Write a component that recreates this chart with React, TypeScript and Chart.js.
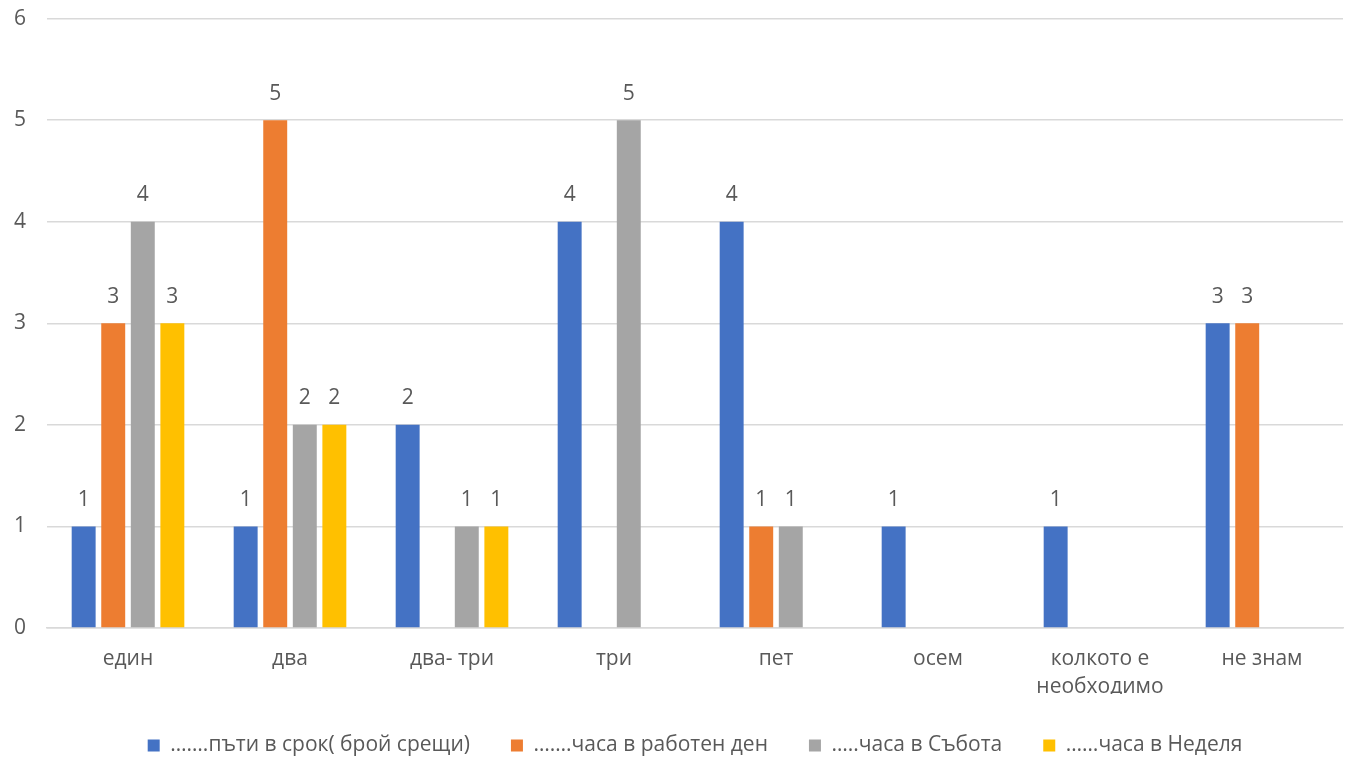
import React, { useEffect, useRef } from 'react';
import { Chart, registerables, Plugin } from 'chart.js';

Chart.register(...registerables);

const categories: (string | string[])[] = ['един', 'два', 'два- три', 'три', 'пет', 'осем', ['колкото е', 'необходимо'], 'не знам'];
const seriesNames = ['…….пъти в срок( брой срещи)', '…….часа в работен ден', '…..часа в Събота', '……часа в Неделя'];
const timesPerTerm = [1, 1, 2, 4, 4, 1, 1, 3];
const hoursWorkday = [3, 5, null, null, 1, null, null, 3];
const hoursSaturday = [4, 2, 1, 5, 1, null, null, null];
const hoursSunday = [3, 2, 1, null, null, null, null, null];
const colors = ['#4472C4', '#ED7D31', '#A5A5A5', '#FFC000'];
const yTicks = [0, 1, 2, 3, 4, 5, 6];

const FONT = '"Open Sans", "Noto Sans", sans-serif';
const TEXT = '#595959';
const SIZE = 21;

// draws the value above each bar
const valueLabels: Plugin<'bar'> = {
  id: 'valueLabels',
  afterDatasetsDraw(chart) {
    const ctx = chart.ctx;
    ctx.save();
    ctx.font = `${SIZE}px ${FONT}`;
    ctx.fillStyle = TEXT;
    ctx.textAlign = 'center';
    ctx.textBaseline = 'bottom';
    chart.data.datasets.forEach((ds, i) => {
      const meta = chart.getDatasetMeta(i);
      meta.data.forEach((bar, j) => {
        const v = ds.data[j] as number | null;
        if (v == null) return;
        ctx.fillText(String(v), bar.x, bar.y - 16);
      });
    });
    ctx.restore();
  },
};

// center the legend under the plot area instead of the whole canvas
const centerLegend: Plugin<'bar'> = {
  id: 'centerLegend',
  afterLayout(chart) {
    const l = chart.legend;
    if (!l) return;
    const a = chart.chartArea;
    const shift = (a.left + a.right) / 2 - (l.left + l.right) / 2;
    l.left += shift;
    l.right += shift;
  },
};

export default function App() {
  const chartRef = useRef<HTMLCanvasElement>(null);
  const chartInstance = useRef<Chart | null>(null);

  useEffect(() => {
    if (!chartRef.current) return;
    if (chartInstance.current) chartInstance.current.destroy();

    const allSeries = [timesPerTerm, hoursWorkday, hoursSaturday, hoursSunday];

    chartInstance.current = new Chart(chartRef.current, {
      type: 'bar',
      data: {
        labels: categories,
        datasets: allSeries.map((data, i) => ({
          label: seriesNames[i],
          data,
          backgroundColor: colors[i],
          barPercentage: 0.81,
          categoryPercentage: 0.73,
        })),
      },
      options: {
        responsive: false,
        animation: false,
        layout: { padding: { top: 0, right: 17, left: 8, bottom: 0 } },
        scales: {
          x: {
            grid: { display: false, drawTicks: false },
            border: { color: '#d9d9d9', width: 1.5 },
            ticks: { color: TEXT, font: { family: FONT, size: SIZE, lineHeight: 1.333 }, padding: 17 },
            afterFit: (scale) => {
              scale.height = 66;
            },
          },
          y: {
            min: 0,
            max: 6,
            afterBuildTicks: (axis) => {
              axis.ticks = yTicks.map((value) => ({ value }));
            },
            grid: { color: '#d9d9d9', lineWidth: 1.5, tickLength: 15, tickColor: 'rgba(0,0,0,0)' },
            border: { display: false },
            ticks: { color: TEXT, font: { family: FONT, size: SIZE }, padding: 6 },
          },
        },
        plugins: {
          legend: {
            position: 'bottom',
            maxHeight: 64,
            labels: {
              color: TEXT,
              font: { family: FONT, size: SIZE },
              boxWidth: 12,
              boxHeight: 12,
              padding: 41,
            },
          },
          tooltip: { enabled: false },
        },
      },
      plugins: [valueLabels, centerLegend],
    });

    return () => {
      if (chartInstance.current) {
        chartInstance.current.destroy();
        chartInstance.current = null;
      }
    };
  }, []);

  return (
    <div style={{ position: 'absolute', left: 0, top: 0, width: 1360, height: 758, background: '#fff' }}>
      <canvas ref={chartRef} width={1360} height={758} />
    </div>
  );
}
